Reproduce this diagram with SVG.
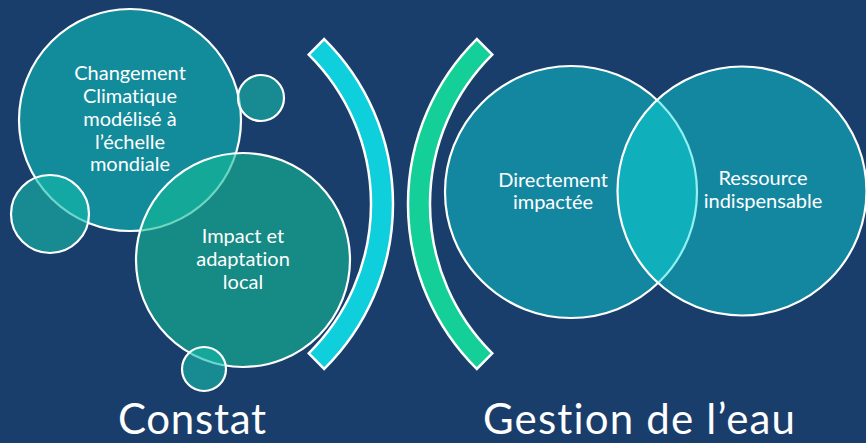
<svg xmlns="http://www.w3.org/2000/svg" width="866" height="443" viewBox="0 0 866 443">
  <style>
    .lbl { font-family: Lato, "Open Sans", "Liberation Sans", sans-serif; font-size: 20px; fill: #ffffff; text-anchor: middle; font-variant-ligatures: none; }
    .title { font-family: Lato, "Open Sans", "Liberation Sans", sans-serif; font-size: 42px; fill: #ffffff; text-anchor: start; font-variant-ligatures: none; }
    .ring { stroke: #ffffff; stroke-width: 2.2; }
    .big1 { fill: #128b9b; }
    .big2 { fill: rgb(19,187,151); fill-opacity: 0.61; }
    .small { fill: rgb(22,187,172); fill-opacity: 0.61; }
    .venn { fill: rgb(11,224,225); fill-opacity: 0.45; }
    .band { stroke: #ffffff; stroke-width: 2.5; stroke-linejoin: miter; }
  </style>
  <rect x="0" y="0" width="866" height="443" fill="#1a3e6b"/>

  <g id="arc-left">
    <path class="band" fill="#0fcfdc" d="M 308.7 54.7 L 324.2 39.1 A 232 232 0 0 1 324.2 368.9 L 308.7 353.3 A 210 210 0 0 0 308.7 54.7 Z"/>
  </g>
  <g id="arc-right">
    <path class="band" fill="#14cf98" d="M 492.3 54.7 L 476.8 39.1 A 232 232 0 0 0 476.8 368.9 L 492.3 353.3 A 210 210 0 0 1 492.3 54.7 Z"/>
  </g>

  <g id="node-changement">
    <circle class="ring big1" cx="130" cy="120" r="111"/>
    <text class="lbl" x="130" y="80">Changement</text>
    <text class="lbl" x="130" y="103">Climatique</text>
    <text class="lbl" x="130" y="126">modélisé à</text>
    <text class="lbl" x="130" y="149">l’échelle</text>
    <text class="lbl" x="130" y="171">mondiale</text>
  </g>
  <g id="bubble-top">
    <circle class="ring small" cx="261" cy="98" r="23"/>
  </g>
  <g id="bubble-left">
    <circle class="ring small" cx="50" cy="214" r="39"/>
  </g>
  <g id="node-impact">
    <circle class="ring big2" cx="243" cy="260" r="107"/>
    <text class="lbl" x="243" y="243">Impact et</text>
    <text class="lbl" x="243" y="266">adaptation</text>
    <text class="lbl" x="243" y="289">local</text>
  </g>
  <g id="bubble-bottom">
    <circle class="ring small" cx="204" cy="369" r="22"/>
  </g>

  <g id="node-directement">
    <circle class="ring venn" cx="571" cy="192" r="126"/>
    <text class="lbl" x="553" y="187">Directement</text>
    <text class="lbl" x="553" y="209">impactée</text>
  </g>
  <g id="node-ressource">
    <circle class="ring venn" cx="742" cy="191" r="124.5"/>
    <text class="lbl" x="763" y="185">Ressource</text>
    <text class="lbl" x="763" y="208">indispensable</text>
  </g>

  <g id="title-constat">
    <text class="title" x="118" y="434" textLength="148" lengthAdjust="spacing">Constat</text>
  </g>
  <g id="title-gestion">
    <text class="title" x="483" y="434" textLength="312" lengthAdjust="spacing">Gestion de l’eau</text>
  </g>
</svg>
